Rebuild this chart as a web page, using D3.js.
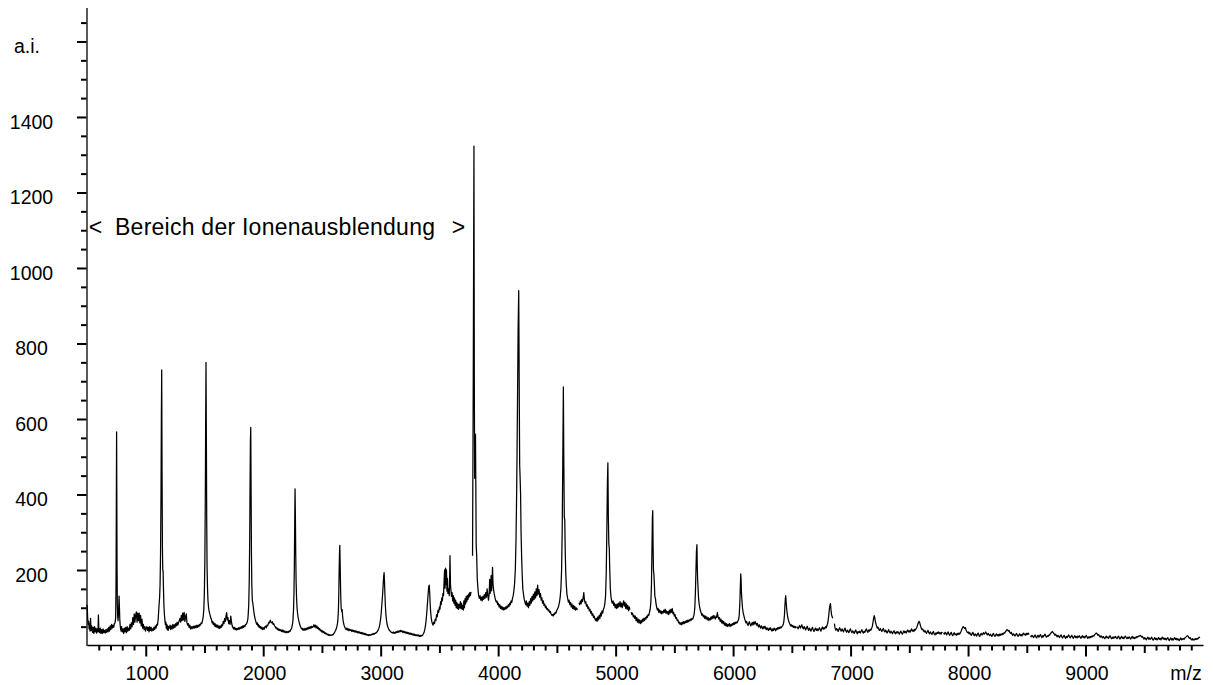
<!DOCTYPE html>
<html>
<head>
<meta charset="utf-8">
<script src="https://cdn.jsdelivr.net/npm/d3@7"></script>
<style>
  html, body { margin: 0; padding: 0; background: #fff; }
  svg { display: block; font-family: "Liberation Sans", Arial, Helvetica, sans-serif; }
</style>
</head>
<body>
<svg id="chart" width="1213" height="685"></svg>
<script>
// ---- axis settings -------------------------------------------------------
const xDomain = [500, 10000];
const yDomain = [0, 1690];
const xLabelValues = [1000, 2000, 3000, 4000, 5000, 6000, 7000, 8000, 9000];
const xLabelText   = ["1000", "2000", "3000", "4000", "5000", "6000", "7000", "8000", "9000"];
const xMediumTicks = [1500, 2500, 3500, 4500, 5500, 6500, 7500, 8500, 9500];
const yLabelValues = [200, 400, 600, 800, 1000, 1200, 1400];
const yLabelText   = ["200", "400", "600", "800", "1000", "1200", "1400"];
const yMajorTicks  = [200, 400, 600, 800, 1000, 1200, 1400, 1600];
const yUnitValue   = 1600;
const yUnitText    = "a.i.";
const xUnitText    = "m/z";
const regionText   = ["<", "Bereich der Ionenausblendung", ">"];
const regionSpan   = [510, 3720];   // m/z range of the suppressed region
const regionLevel  = 1087;          // intensity level of the annotation baseline

// ---- spectrum trace: [m/z, intensity], split where the recording has gaps ----
const segment1 = [
  [500,108],[503,96],[506,70],[510,56],[514,64],[518,44],[522,58],[526,38],[530,72],[534,40],[540,52],[546,35],[552,48],[558,32],[564,50],[570,36],[576,46],[582,33],[588,44],[594,36],[597,81],[601,42],[607,34],[613,46],[619,32],[625,42],[631,32],[637,44],[643,34],[649,40],[655,33],[661,42],[667,35],[673,44],[679,36],[685,48],[691,38],[697,52],[703,42],[709,56],[715,46],[721,54],[727,48],[733,58],[739,60],[744,74],
  [747,160],[749,320],[751,480],[752,566],[754,380],[756,200],[758,110],[761,78],[764,66],[767,80],[770,100],[773,131],[776,102],[779,70],[782,55],[786,44],[790,38],
  [794,50],[800,36],[806,44],[812,32],[818,46],[824,36],[830,48],[836,34],[842,50],[848,38],[854,46],[860,40],[866,56],[872,44],[878,60],[884,50],[890,74],[896,56],[902,84],[908,62],[914,80],[920,89],[926,62],[932,86],[938,66],[944,86],[950,60],[956,80],[962,52],[968,70],[974,46],[980,56],[986,42],[992,50],[998,38],[1004,46],[1010,50],[1016,40],[1022,48],[1028,36],[1034,50],[1040,40],[1046,48],[1052,38],[1058,44],[1064,40],[1070,48],[1076,42],[1082,52],[1088,46],[1094,56],[1100,54],[1106,70],[1110,90],[1114,110],[1118,127],
  [1122,160],[1126,240],[1130,400],[1133,600],[1136,730],[1139,450],[1142,260],[1145,200],[1148,196],[1151,150],[1155,105],[1159,82],[1163,68],[1167,56],[1171,62],[1175,46],[1179,56],[1183,42],[1187,52],[1191,40],[1195,50],
  [1201,46],[1207,54],[1213,42],[1219,52],[1225,44],[1231,56],[1237,46],[1243,55],[1249,48],[1255,58],[1261,52],[1267,62],[1273,54],[1279,60],[1285,66],[1291,72],[1297,62],[1303,80],[1309,66],[1315,86],[1321,68],[1327,88],[1333,64],[1339,76],[1345,84],[1351,60],[1357,54],[1363,58],[1369,48],[1375,54],[1381,44],[1387,50],[1393,44],[1399,50],[1405,46],[1411,52],[1417,46],[1423,52],[1429,47],[1435,54],[1441,48],[1447,54],[1453,50],[1459,56],[1465,54],[1471,60],[1477,58],[1483,66],[1487,72],[1491,82],[1495,100],
  [1499,140],[1503,220],[1507,380],[1510,580],[1513,750],[1516,560],[1519,340],[1522,210],[1526,150],[1530,118],[1535,100],[1540,90],[1545,84],[1550,78],[1555,72],[1560,68],[1565,60],[1570,64],[1575,56],[1580,60],[1585,52],[1590,58],[1595,50],[1600,55],
  [1606,48],[1612,54],[1618,46],[1624,52],[1630,45],[1636,52],[1642,48],[1648,56],[1654,52],[1660,64],[1666,58],[1672,72],[1678,64],[1684,80],[1689,87],[1694,68],[1700,74],[1706,58],[1712,66],[1718,56],[1724,78],[1730,62],[1736,52],[1742,48],[1748,44],[1754,48],[1760,42],[1766,46],[1772,41],[1778,45],[1784,42],[1790,47],[1796,43],[1802,48],[1808,45],[1814,50],[1820,46],[1826,52],[1832,48],[1838,53],[1844,50],[1850,56],[1856,56],[1862,60],[1866,65],[1870,72],[1873,85],
  [1877,110],[1881,170],[1885,280],[1888,420],[1891,540],[1894,578],[1897,400],[1900,240],[1903,160],[1907,120],[1911,113],[1915,104],[1920,90],[1925,80],[1930,72],[1935,66],[1940,60],[1945,56],[1950,60],[1955,52],[1960,56],[1965,48],[1970,52],[1975,46],[1980,50],[1985,44],
  [1990,48],[1996,42],[2002,47],[2008,43],[2014,49],[2020,51],[2026,47],[2032,54],[2038,52],[2044,58],[2050,62],[2055,60],[2060,67],[2066,62],[2072,60],[2078,63],[2084,56],[2090,58],[2096,52],[2102,50],[2108,46],[2114,48],[2120,42],[2126,45],[2132,40],[2138,43],[2144,39],[2150,42],[2156,37],[2162,41],[2168,36],[2174,40],[2180,35],[2186,38],[2192,34],[2198,37],[2204,34],[2210,37],[2216,35],[2222,39],[2228,37],[2234,42],[2240,44],[2245,50],[2250,58],[2254,70],[2258,95],
  [2262,140],[2265,210],[2268,320],[2271,415],[2274,340],[2277,240],[2280,170],[2284,125],[2288,100],[2292,86],[2297,75],[2302,67],[2307,60],[2312,55],[2317,50],[2322,47],[2327,44],[2332,46],[2337,41],[2342,44],
  [2348,40],[2354,45],[2360,41],[2366,46],[2372,42],[2378,47],[2384,44],[2390,49],[2396,45],[2402,50],[2408,46],[2414,51],[2420,48],[2426,50],[2432,55],[2438,49],[2444,54],[2450,47],[2456,52],[2462,45],[2468,48],[2474,42],[2480,45],[2486,39],[2492,41],[2498,36],[2504,39],[2510,34],[2516,37],[2522,32],[2528,34],[2534,30],[2540,32],[2546,28],[2552,30],[2558,27],[2564,29],[2570,26],[2576,28],[2582,27],[2588,29],[2594,28],[2600,32],[2606,33],[2612,38],[2617,40],[2622,45],[2627,50],[2632,58],[2636,70],[2640,92],
  [2643,130],[2646,190],[2649,240],[2652,265],[2655,215],[2658,160],[2661,120],[2664,98],[2668,90],[2672,95],[2676,78],[2680,66],[2685,58],[2690,52],[2695,48],[2700,45],
  [2706,42],[2712,46],[2718,41],[2724,44],[2730,39],[2736,43],[2742,40],[2748,42],[2754,37],[2760,41],[2766,37],[2772,40],[2778,36],[2784,39],[2790,35],[2796,38],[2802,34],[2808,37],[2814,33],[2820,36],[2826,32],[2832,35],[2838,31],[2844,34],[2850,30],[2856,33],[2862,29],[2868,32],[2874,28],[2880,30],[2886,27],[2892,29],[2898,26],[2904,29],[2910,27],[2916,29],[2922,28],[2928,31],[2934,29],[2940,32],[2946,30],[2952,33],[2958,32],[2964,35],[2970,36],[2975,39],[2980,42],[2985,46],[2990,52],[2995,60],[3000,72],[3005,88],[3010,108],[3015,130],[3020,155],[3025,180],[3029,193],[3032,172],[3036,138],[3040,105],[3044,84],[3049,68],[3054,57],[3060,50],[3066,45],[3072,41],[3078,39],[3084,37],[3090,35],[3096,34],
  [3102,33],[3108,36],[3114,32],[3120,35],[3126,33],[3132,37],[3138,34],[3144,38],[3150,35],[3156,39],[3162,36],[3168,40],[3174,37],[3180,39],[3186,35],[3192,38],[3198,34],[3204,37],[3210,33],[3216,36],[3222,32],[3228,35],[3234,31],[3240,34],[3246,30],[3252,33],[3258,29],[3264,32],[3270,28],[3276,31],[3282,27],[3288,30],[3294,26],[3300,29],[3306,26],[3312,28],[3318,25],[3324,28],[3330,24],[3336,27],[3342,24],[3348,27],[3354,26],[3360,29],[3365,32],[3370,36],[3375,42],[3380,50],[3385,62],[3390,78],[3395,98],[3400,120],[3405,142],[3409,156],[3413,160],[3417,140],[3421,112],[3425,90],[3430,74],[3435,64],[3440,58],[3446,54],[3452,62],
  [3458,58],[3464,70],[3470,66],[3476,82],[3482,76],[3488,94],[3494,88],[3500,102],[3505,96],[3510,116],[3515,108],[3520,126],[3525,118],[3530,138],[3535,132],[3540,172],[3544,200],[3548,152],[3552,205],[3556,162],[3560,200],[3564,144],[3568,178],[3572,138],[3578,150],[3584,132],[3590,238],[3594,162],[3598,146],[3603,130],[3608,140],[3613,118],[3618,132],[3623,112],[3628,126],[3633,106],[3638,120],[3643,100],[3648,114],[3653,98],[3658,110],[3663,96],[3668,108],[3673,100],[3678,116],[3683,98],[3688,112],[3693,96],[3698,106],[3703,94],[3708,118],[3713,100],[3718,124],[3723,110],[3728,130],[3733,116],[3738,132],[3743,122],[3748,136],[3753,128],[3758,140],[3763,132],[3769,142]
];

const segment2 = [
  [3782,238],[3788,700],[3794,1323],[3797,700],[3800,443],[3804,500],[3807,560],[3810,420],[3813,265],[3817,240],[3822,178],[3828,150],[3834,132],[3840,125],[3846,132],[3852,120],[3858,128],[3864,118],[3870,130],[3876,122],[3882,135],[3888,125],[3894,140],[3900,128],[3906,150],[3912,132],[3918,120],[3924,140],[3928,175],[3932,138],[3936,160],[3940,185],[3944,145],[3948,170],[3952,207],[3956,165],[3960,150],[3966,138],[3972,128],[3978,120],[3984,115],[3990,118],[3996,108],[4002,112],[4008,102],[4014,108],[4020,98],[4026,104],[4032,96],[4038,102],[4044,94],[4050,100],[4056,95],[4062,102],[4068,97],[4074,104],[4080,100],[4086,108],[4092,103],[4098,112],[4104,108],[4110,118],[4116,114],[4122,125],[4128,132],[4134,145],[4140,165],[4146,200],[4152,280],[4158,420],[4164,620],[4170,840],[4175,940],[4179,700],[4183,480],[4187,443],[4191,400],[4195,300],[4200,233],[4205,185],[4210,150],[4216,135],[4222,122],[4228,115],[4234,108],[4240,118],[4246,104],[4252,112],[4258,100],[4264,116],[4270,106],[4276,124],[4282,112],[4288,130],[4294,118],[4300,136],[4306,122],[4312,142],[4318,126],[4324,150],[4330,132],[4336,160],[4342,136],[4348,148],[4354,128],[4360,138],[4366,120],[4372,126],[4378,112],[4384,118],[4390,106],[4396,110],[4402,100],[4408,104],[4414,96],[4420,98],[4426,92],[4432,94],[4438,88],[4444,90],[4450,84],[4456,80],[4462,82],[4468,78],[4474,84],[4480,82],[4486,88],[4492,86],[4498,92],[4504,96],[4510,100],[4516,106],[4522,115],[4528,128],[4534,150],[4540,200],[4545,300],[4550,480],[4555,685],[4559,480],[4563,340],[4567,333],[4571,250],[4575,196],[4580,160],[4586,135],[4592,124],[4598,115],[4604,120],[4610,108],[4616,114],[4622,102],[4628,110],[4634,98],[4640,106],[4646,96],[4652,104],[4658,94],[4664,100],[4670,95],[4676,98]
];

const segment3 = [
  [4688,113],[4694,108],[4700,118],[4706,110],[4712,122],[4718,116],[4724,128],[4729,140],[4734,122],[4740,112],[4746,116],[4752,104],[4758,108],[4764,98],[4770,102],[4776,92],[4782,96],[4788,86],[4794,90],[4800,80],[4806,84],[4812,74],[4818,78],[4824,70],[4830,66],[4836,72],[4842,64],[4848,76],[4854,68],[4860,80],[4866,72],[4872,86],[4878,78],[4884,92],[4890,86],[4896,96],[4902,100],[4908,110],[4914,130],[4920,190],[4925,300],[4930,430],[4934,484],[4938,340],[4942,270],[4946,257],[4950,200],[4955,150],[4960,130],[4966,118],[4972,112],[4978,118],[4984,106],[4990,112],[4996,100],[5002,108],[5008,98],[5014,110],[5020,100],[5026,112],[5032,104],[5038,116],[5044,102],[5050,112],[5056,100],[5062,110],[5068,118],[5074,104],[5080,114],[5086,98],[5092,110],[5098,96],[5104,106],[5110,92],[5116,102],[5122,95]
];

const segment4 = [
  [5132,88],[5138,82],[5144,86],[5150,76],[5156,80],[5162,72],[5168,78],[5174,66],[5180,74],[5186,62],[5192,70],[5198,60],[5204,68],[5210,58],[5216,66],[5222,60],[5228,70],[5234,64],[5240,72],[5246,66],[5252,74],[5258,70],[5264,78],[5270,74],[5276,82],[5282,80],[5288,88],[5294,96],[5300,115],[5305,160],[5309,250],[5313,340],[5316,357],[5319,260],[5322,200],[5326,188],[5330,160],[5334,130],[5339,124],[5344,110],[5350,100],[5356,94],[5362,98],[5368,88],[5374,94],[5380,86],[5386,92],[5392,84],[5398,90],[5404,86],[5410,94],[5416,88],[5422,96],[5428,86],[5434,92],[5440,84],[5446,90],[5452,82],[5458,94],[5464,86],[5470,96],[5476,88],[5482,98],[5488,84],[5494,88],[5500,78],[5506,82],[5512,72],[5518,74],[5524,66],[5530,68],[5536,60],[5542,62],[5548,56],[5554,60],[5560,55],[5566,62],[5572,57],[5578,63],[5584,58],[5590,64],[5596,60],[5602,66],[5608,61],[5614,67],[5620,63],[5626,68],[5632,65],[5638,70],[5644,67],[5650,72],[5656,70],[5662,75],[5668,82],[5674,100],[5679,140],[5684,200],[5688,250],[5692,267],[5695,210],[5698,175],[5702,150],[5706,125],[5711,110],[5716,100],[5722,92],[5728,86],[5734,80],[5740,84],[5746,76],[5752,80],[5758,72],[5764,78],[5770,70],[5776,76],[5782,68],[5788,74],[5794,66],[5800,72],[5806,68],[5812,76],[5818,70],[5824,78],[5830,72],[5836,80],[5842,74],[5848,70],[5854,78],[5860,74],[5866,87],[5872,76],[5878,70],[5884,74],[5890,64],[5896,70],[5902,60],[5908,66],[5914,58],[5920,64],[5926,54],[5932,60],[5938,52],[5944,58],[5950,50],[5956,56],[5962,52],[5968,58],[5974,50],[5980,56],[5986,52],[5992,58],[5998,54],[6004,60],[6010,56],[6016,62],[6022,58],[6028,62],[6034,60],[6040,64],[6046,68],[6052,80],[6057,110],[6061,150],[6065,190],[6068,175],[6071,140],[6075,120],[6080,100],[6085,88],[6091,80],[6097,72],[6103,66],[6109,60],[6115,64],[6121,57],[6127,53],[6133,59],[6139,63],[6145,56],[6151,52],[6157,57],[6163,61],[6169,54],[6175,62],[6181,57],[6187,64],[6193,58],[6199,54],[6205,59],[6211,53],[6217,49],[6223,55],[6229,50],[6235,46],[6241,52],[6247,48],[6253,44],[6259,50],[6265,46],[6271,51],[6277,45],[6283,42],[6289,47],[6295,43],[6301,40],[6307,46],[6313,42],[6319,47],[6325,41],[6331,38],[6337,44],[6343,40],[6349,46],[6355,43],[6361,39],[6367,45],[6373,42],[6379,47],[6385,44],[6391,48],[6397,45],[6403,49],[6409,47],[6415,50],[6421,52],[6427,56],[6432,64],[6437,80],[6441,105],[6445,125],[6448,132],[6451,118],[6455,100],[6460,86],[6466,74],[6472,66],[6478,60],[6484,56],[6490,52],[6496,55],[6502,50],[6508,53],[6514,48],[6520,51],[6526,47],[6532,50],[6538,46]
];

const segment5 = [
  [6546,50],[6553,44],[6559,49],[6566,53],[6572,46],[6579,50],[6585,55],[6592,48],[6598,44],[6605,50],[6611,46],[6618,41],[6624,47],[6631,51],[6637,44],[6644,40],[6650,46],[6657,42],[6663,38],[6670,44],[6676,48],[6683,41],[6689,37],[6696,43],[6702,46],[6709,40],[6715,44],[6722,39],[6728,43],[6735,47],[6741,42],[6748,38],[6754,45],[6761,49],[6767,43],[6774,47],[6780,44],[6787,50],[6793,47],[6799,53],[6804,58],[6810,68],[6815,82],[6820,98],[6825,108],[6829,111],[6833,95],[6838,82],[6843,76],[6848,72]
];

const segment6 = [
  [6862,58],[6868,46],[6875,40],[6881,45],[6888,42],[6894,37],[6901,43],[6907,47],[6914,41],[6920,38],[6927,44],[6933,40],[6940,36],[6946,42],[6953,46],[6959,39],[6966,35],[6972,41],[6979,38],[6985,34],[6992,40],[6998,44],[7005,38],[7011,34],[7018,39],[7024,36],[7031,32],[7037,37],[7044,41],[7050,35],[7057,31],[7063,37],[7070,34],[7076,38],[7083,33],[7089,37],[7096,42],[7102,36],[7109,33],[7115,38],[7122,35],[7128,40],[7135,44],[7141,38],[7148,35],[7154,41],[7161,38],[7167,43],[7174,41],[7180,46],[7186,52],[7191,62],[7196,72],[7201,79],[7205,75],[7210,66],[7215,58],[7221,52],[7227,46],[7233,49],[7240,43],[7246,40],[7253,45],[7259,41],[7266,37],[7272,42],[7279,45],[7285,39],[7292,36],[7298,41],[7305,37],[7311,33],[7318,38],[7324,42],[7331,36],[7337,33],[7344,38],[7350,35],[7357,31],[7363,36],[7370,39],[7376,34],[7383,31],[7389,36],[7396,33],[7402,37],[7409,34],[7415,30],[7422,35],[7428,38],[7435,33],[7441,30],[7448,35],[7454,39],[7461,34],[7467,37],[7474,33],[7480,38],[7487,41],[7493,36],[7500,39],[7506,35],[7513,40],[7519,44],[7526,38],[7532,41],[7539,37],[7545,43],[7551,41],[7557,44],[7563,47],[7568,52],[7573,57],[7578,61],[7583,64],[7587,62],[7592,56],[7597,50],[7602,46],[7608,42],[7614,44],[7620,39],[7627,36],[7633,40],[7640,35],[7646,32],[7653,37],[7659,40],[7666,34],[7672,31],[7679,36],[7685,33],[7692,29],[7698,34],[7705,37],[7711,31],[7718,28],[7724,33],[7731,30],[7737,35],[7744,32],[7750,36],[7757,31],[7763,34],[7770,30],[7776,35],[7782,33]
];

const segment7 = [
  [7792,34],[7798,30],[7805,35],[7811,32],[7818,28],[7824,33],[7831,36],[7837,30],[7844,27],[7850,32],[7857,35],[7863,29],[7870,26],[7876,31],[7883,34],[7889,28],[7896,31],[7902,27],[7909,32],[7915,29],[7922,33],[7928,30],[7935,34],[7941,38],[7947,43],[7953,47],[7959,50],[7965,48],[7971,45],[7977,47],[7983,41],[7989,37],[7995,34],[8002,36],[8008,31],[8015,34],[8021,30],[8028,27],[8034,32],[8041,35],[8047,29],[8054,26],[8060,31],[8067,28],[8073,25],[8080,30],[8086,33],[8093,27],[8099,24],[8106,29],[8112,32],[8119,28],[8125,31],[8132,34],[8138,30],[8145,33],[8151,36],[8158,31],[8164,28],[8171,32],[8177,29],[8184,26],[8190,30],[8197,27],[8203,24],[8210,29],[8216,32],[8223,27],[8229,24],[8236,28],[8242,31],[8249,26],[8255,29],[8262,25],[8268,30],[8275,27],[8281,31],[8288,28],[8294,32],[8301,30],[8307,34],[8313,33],[8319,37],[8325,39],[8331,42],[8337,41],[8343,38],[8349,40],[8355,35],[8361,32],[8368,35],[8374,30],[8381,27],[8387,31],[8394,28],[8400,25],[8407,29],[8413,32],[8420,27],[8426,24],[8433,28],[8439,31],[8446,26],[8452,29],[8459,25],[8465,30],[8472,33],[8478,28],[8485,31],[8491,27],[8498,32],[8504,29],[8511,33],[8516,30],[8521,31]
];

const segment8 = [
  [8532,26],[8538,23],[8545,27],[8551,24],[8558,21],[8564,25],[8571,28],[8577,23],[8584,20],[8590,25],[8597,27],[8603,22],[8610,26],[8616,29],[8623,24],[8629,21],[8636,26],[8642,23],[8649,27],[8655,30],[8662,25],[8668,22],[8675,26],[8681,24],[8688,28],[8694,27],[8700,31],[8706,33],[8712,35],[8718,37],[8723,35],[8728,33],[8734,30],[8740,27],[8746,30],[8753,26],[8759,23],[8766,27],[8772,24],[8779,21],[8785,26],[8792,28],[8798,23],[8805,20],[8811,24],[8818,27],[8824,22],[8831,19],[8837,24],[8844,21],[8850,25],[8857,28],[8863,23],[8870,20],[8876,24],[8883,27],[8889,22],[8896,19],[8902,23],[8909,26],[8915,21],[8922,24],[8928,20],[8935,25],[8941,22],[8948,26],[8954,22],[8961,19],[8967,23],[8974,26],[8980,21],[8987,24],[8993,20],[9000,24],[9006,27],[9013,22],[9019,19],[9026,23],[9032,20],[9039,24],[9045,21],[9052,25],[9058,23],[9064,26],[9070,25],[9076,28],[9082,30],[9088,32],[9094,33],[9100,30],[9106,27],[9112,29],[9118,25],[9125,22],[9131,26],[9138,23],[9144,20],[9151,24],[9157,21],[9164,18],[9170,22],[9177,25],[9183,20],[9190,23],[9196,19],[9203,23],[9209,26],[9216,21],[9222,18],[9229,22],[9235,19],[9242,23],[9248,20],[9255,24],[9261,21],[9268,18],[9274,22],[9281,25],[9287,20],[9294,17],[9300,21],[9307,24],[9313,19],[9320,22],[9326,18],[9333,22],[9339,25],[9346,21],[9352,18],[9359,22],[9365,19],[9372,23],[9378,20],[9385,17],[9391,21],[9398,24],[9404,19],[9411,22],[9417,18],[9424,22],[9430,20],[9437,24],[9443,22],[9449,25],[9455,24],[9461,26],[9467,27],[9473,25],[9479,22],[9485,24],[9492,20],[9498,17],[9505,21],[9511,18],[9518,15],[9524,19],[9531,22],[9537,17],[9544,20],[9550,16],[9557,19],[9563,22],[9570,17],[9576,14],[9583,18],[9589,21],[9596,16],[9602,19],[9609,15],[9615,18],[9622,21],[9628,16],[9635,19],[9641,15],[9648,19],[9654,22],[9661,17],[9667,20],[9674,16],[9680,19],[9687,15],[9693,18],[9700,21],[9706,16],[9713,13],[9719,17],[9726,20],[9732,15],[9739,18],[9745,14],[9752,18],[9758,21],[9765,16],[9771,19],[9778,15],[9784,18],[9791,16],[9797,13],[9804,17],[9810,20],[9817,15],[9823,18],[9830,16],[9836,19],[9842,17],[9848,21],[9854,22],[9860,24],[9866,26],[9872,25],[9878,22],[9884,19],[9890,21],[9897,17],[9903,15],[9910,18],[9916,14],[9923,17],[9929,15],[9936,18],[9942,16],[9949,19],[9955,17],[9962,20],[9968,22],[9975,21]
];

const traceSegments = [segment1, segment2, segment3, segment4, segment5, segment6, segment7, segment8];

// ---- drawing -------------------------------------------------------------
const svg = d3.select("#chart");
const x = d3.scaleLinear().domain(xDomain).range([87, 1203]);
const y = d3.scaleLinear().domain(yDomain).range([645.5, 7.5]);

const fontSize = 19.5;

// x axis: minor (100), medium (500) and major (1000) ticks
const xMinorTicks = d3.range(600, 10000, 100).filter(v => v % 500 !== 0);
const xAxisY = y(0);

const gxMinor = svg.append("g").attr("transform", `translate(0,${xAxisY - 0.5})`)
  .call(d3.axisBottom(x).tickValues(xMinorTicks).tickSize(5.5).tickSizeOuter(0).tickFormat(""));
const gxMedium = svg.append("g").attr("transform", `translate(0,${xAxisY - 0.5})`)
  .call(d3.axisBottom(x).tickValues(xMediumTicks).tickSize(8).tickSizeOuter(0).tickFormat(""));
const gxMajor = svg.append("g").attr("transform", `translate(0,${xAxisY - 0.5})`)
  .call(d3.axisBottom(x).tickValues(xLabelValues).tickSize(11.5).tickSizeOuter(0).tickFormat(""));
gxMedium.select(".domain").remove();
gxMajor.select(".domain").remove();

// y axis: minor (50) and major (200) ticks
const yMinorTicks = d3.range(50, 1700, 50).filter(v => v % 200 !== 0);
const gyMinor = svg.append("g").attr("transform", "translate(86.5,0)")
  .call(d3.axisLeft(y).tickValues(yMinorTicks).tickSize(5.5).tickSizeOuter(0).tickFormat(""));
const gyMajor = svg.append("g").attr("transform", "translate(86.5,0)")
  .call(d3.axisLeft(y).tickValues(yMajorTicks).tickSize(9.5).tickSizeOuter(0).tickFormat(""));
gyMajor.select(".domain").remove();

svg.selectAll(".domain").attr("stroke", "#000").attr("stroke-width", 1.3);
svg.selectAll(".tick line").attr("stroke", "#000").attr("stroke-width", 2);

// tick labels
svg.append("g").selectAll("text")
  .data(xLabelValues)
  .join("text")
  .attr("x", d => x(d) + 1.5)
  .attr("y", 680)
  .attr("text-anchor", "middle")
  .attr("font-size", fontSize)
  .attr("fill", "#000")
  .text((d, i) => xLabelText[i]);

svg.append("text")
  .attr("x", 1186)
  .attr("y", 680)
  .attr("text-anchor", "middle")
  .attr("font-size", fontSize)
  .attr("fill", "#000")
  .text(xUnitText);

svg.append("g").selectAll("text")
  .data(yLabelValues)
  .join("text")
  .attr("x", 31.5)
  .attr("y", d => y(d) + 12)
  .attr("text-anchor", "middle")
  .attr("font-size", fontSize)
  .attr("fill", "#000")
  .text((d, i) => yLabelText[i]);

svg.append("text")
  .attr("x", 27)
  .attr("y", y(yUnitValue) + 11.5)
  .attr("text-anchor", "middle")
  .attr("font-size", fontSize)
  .attr("fill", "#000")
  .text(yUnitText);

// annotation for the ion suppression region
const annY = y(regionLevel);
const ann = svg.append("g").attr("font-size", 23).attr("fill", "#000");
ann.append("text").attr("x", x(regionSpan[0]) + 0.5).attr("y", annY).text(regionText[0]);
ann.append("text").attr("x", 115).attr("y", annY)
  .attr("textLength", 320).attr("lengthAdjust", "spacing").text(regionText[1]);
ann.append("text").attr("x", x(regionSpan[1])).attr("y", annY)
  .attr("text-anchor", "end").text(regionText[2]);

// spectrum
const line = d3.line().x(d => x(d[0])).y(d => y(d[1]));
svg.append("g").selectAll("path")
  .data(traceSegments)
  .join("path")
  .attr("d", line)
  .attr("fill", "none")
  .attr("stroke", "#000")
  .attr("stroke-width", 1.25)
  .attr("stroke-linejoin", "round");
</script>
</body>
</html>
